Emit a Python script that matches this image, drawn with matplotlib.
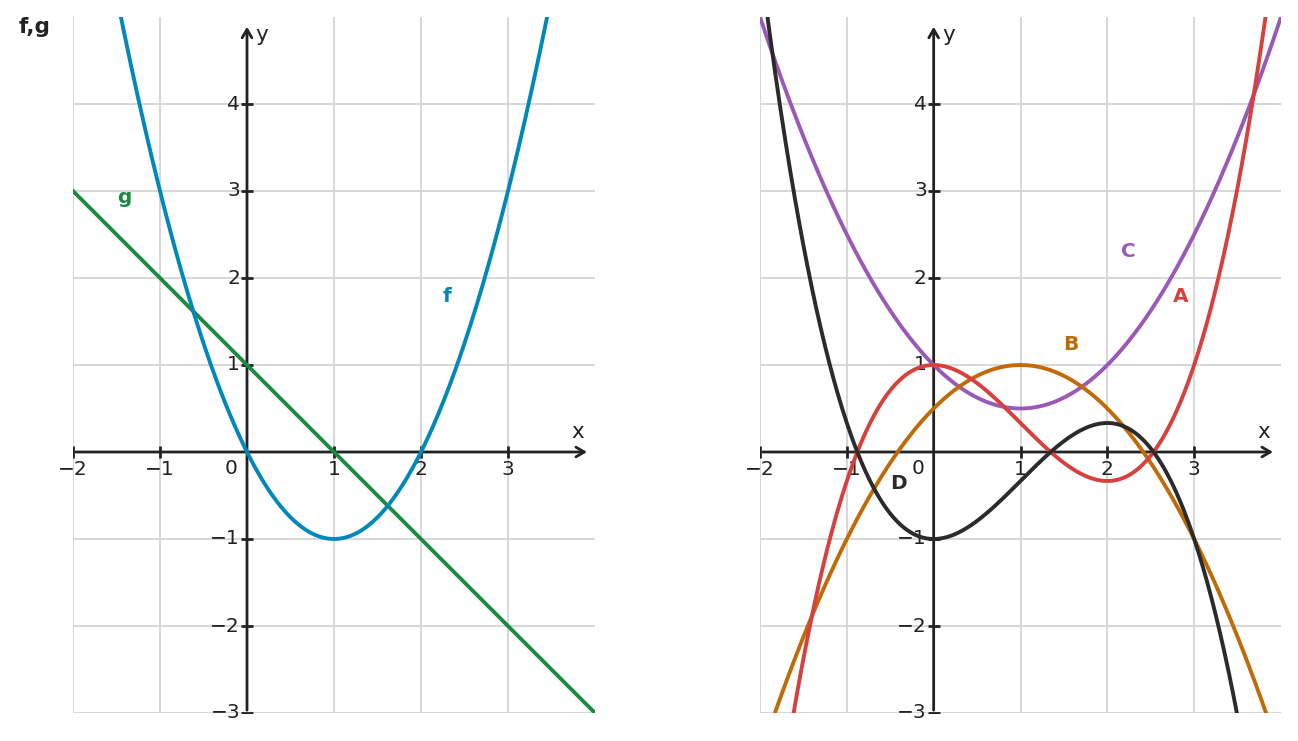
import numpy as np
import matplotlib.pyplot as plt

# polynomial coefficients (highest power first)
f_coef = [1, -2, 0]
g_coef = [-1, 1]
A_coef = [1/3, -1, 0, 1]
B_coef = [-0.5, 1, 0.5]
C_coef = [0.5, -1, 1]
D_coef = [-1/3, 1, 0, -1]

x_ticks = [-2, -1, 1, 2, 3]
y_ticks = [-3, -2, -1, 1, 2, 3, 4]

axis_col = '#222222'
grid_col = '#d4d4d4'
tick_fs = 14.5


def fmt(v):
    return str(v).replace('-', '\u2212')


def setup(ax):
    ax.set_xlim(-2, 4)
    ax.set_ylim(-3, 5)
    for s in ax.spines.values():
        s.set_visible(False)
    ax.set_xticks([])
    ax.set_yticks([])
    for xv in x_ticks:
        ax.axvline(xv, color=grid_col, lw=1.3, zorder=0)
    for yv in y_ticks:
        ax.axhline(yv, color=grid_col, lw=1.3, zorder=0)
    # axes with arrows
    ax.annotate('', xy=(3.94, 0), xytext=(-2, 0),
                arrowprops=dict(arrowstyle='->,head_length=0.6,head_width=0.35', lw=2, color=axis_col),
                zorder=1)
    ax.annotate('', xy=(0, 4.92), xytext=(0, -3),
                arrowprops=dict(arrowstyle='->,head_length=0.6,head_width=0.35', lw=2, color=axis_col),
                zorder=1)
    ax.plot(x_ticks, [0] * len(x_ticks), ls='none', marker='|', ms=8, mew=2, color=axis_col, zorder=1)
    ax.plot([0] * len(y_ticks), y_ticks, ls='none', marker='_', ms=8, mew=2, color=axis_col, zorder=1)
    for xv in x_ticks:
        ax.annotate(fmt(xv), (xv, 0), xytext=(0, -6), textcoords='offset points',
                    ha='center', va='top', fontsize=tick_fs, color=axis_col, zorder=1)
    for yv in y_ticks:
        ax.annotate(fmt(yv), (0, yv), xytext=(-5, 0), textcoords='offset points',
                    ha='right', va='center', fontsize=tick_fs, color=axis_col, zorder=1)
    ax.annotate('0', (0, 0), xytext=(-11.5, -12), textcoords='offset points',
                ha='center', va='center', fontsize=tick_fs, color=axis_col, zorder=1)
    ax.text(3.8, 0.23, 'x', ha='center', va='center', fontsize=15.5, color=axis_col)
    ax.text(0.17, 4.79, 'y', ha='center', va='center', fontsize=15.5, color=axis_col)


fig = plt.figure(figsize=(12.98, 7.41), dpi=100)
ax1 = fig.add_axes([73/1298, 28/741, 522/1298, 696/741])
ax2 = fig.add_axes([760/1298, 28/741, 521/1298, 696/741])

xs = np.linspace(-2, 4, 600)
for ax in (ax1, ax2):
    setup(ax)

lw = 2.8
ax1.plot(xs, np.polyval(g_coef, xs), color='#1b8a40', lw=lw, zorder=3)
ax1.plot(xs, np.polyval(f_coef, xs), color='#0088bd', lw=lw, zorder=3)
ax1.text(-1.41, 2.93, 'g', color='#1b8a40', fontsize=14.5, fontweight='bold', ha='center', va='center')
ax1.text(2.30, 1.79, 'f', color='#0088bd', fontsize=14.5, fontweight='bold', ha='center', va='center')

ax2.plot(xs, np.polyval(C_coef, xs), color='#9b59b6', lw=lw, zorder=3)
ax2.plot(xs, np.polyval(B_coef, xs), color='#c06a08', lw=lw, zorder=3)
ax2.plot(xs, np.polyval(A_coef, xs), color='#d6403d', lw=lw, zorder=3)
ax2.plot(xs, np.polyval(D_coef, xs), color='#2b2b2b', lw=lw, zorder=3)
ax2.text(2.24, 2.30, 'C', color='#9b59b6', fontsize=14.5, fontweight='bold', ha='center', va='center')
ax2.text(2.84, 1.79, 'A', color='#d6403d', fontsize=14.5, fontweight='bold', ha='center', va='center')
ax2.text(1.58, 1.24, 'B', color='#c06a08', fontsize=14.5, fontweight='bold', ha='center', va='center')
ax2.text(-0.41, -0.36, 'D', color='#2b2b2b', fontsize=14.5, fontweight='bold', ha='center', va='center')

fig.text(35/1298, 1 - 27/741, 'f,g', fontsize=15.5, fontweight='bold', color=axis_col,
         ha='center', va='center')

fig.savefig('out.png', dpi=100)
